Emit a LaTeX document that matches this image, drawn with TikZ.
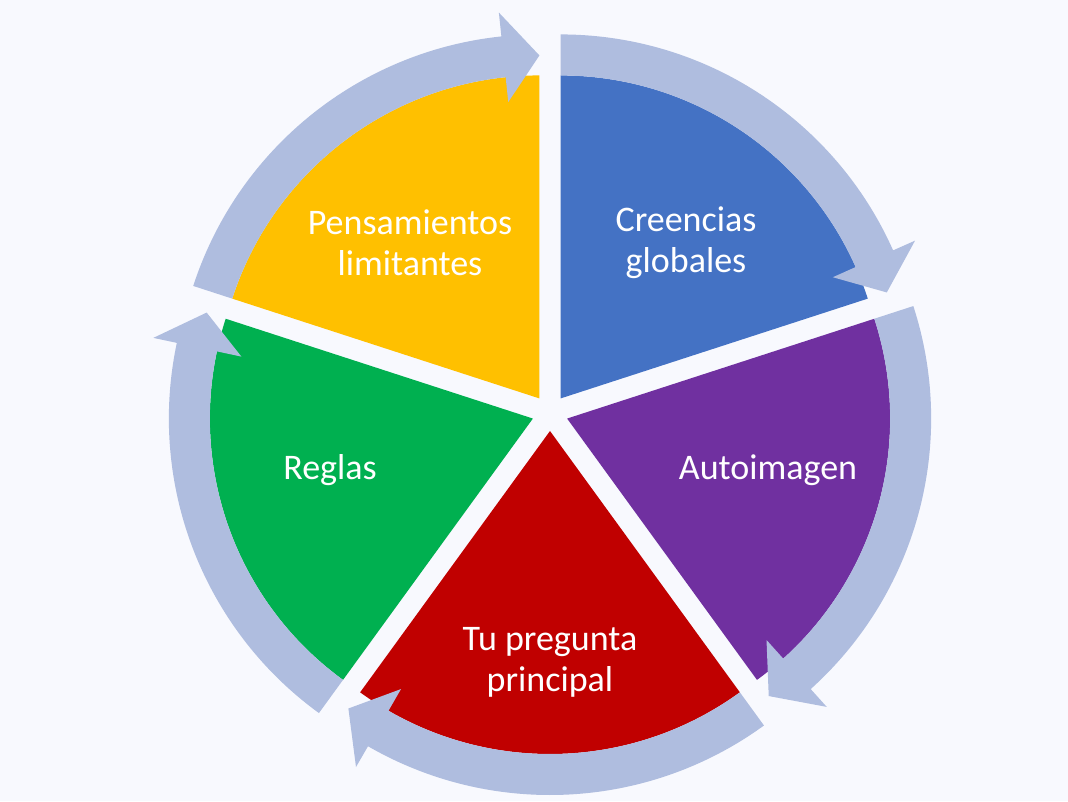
\documentclass[tikz,border=0pt]{standalone}
\usepackage{fontspec}
\setmainfont{Carlito}
\definecolor{bgcol}{HTML}{F8F9FE}
\definecolor{ringcol}{HTML}{AFBDDF}
\definecolor{cblue}{HTML}{4472C4}
\definecolor{cyellow}{HTML}{FFC000}
\definecolor{cpurple}{HTML}{7030A0}
\definecolor{cred}{HTML}{C00000}
\definecolor{cgreen}{HTML}{00B050}
\begin{document}
\begin{tikzpicture}[x=1pt,y=1pt,
    segtext/.style={text=white, align=center, font=\fontsize{36}{41}\selectfont}]
  \useasboundingbox (0,0) rectangle (1068,801);
  \fill[bgcol] (0,0) rectangle (1068,801);
  % sectors
  \foreach \a/\col in {18/cblue, 90/cyellow, 162/cgreen, 234/cred, 306/cpurple} {
    \begin{scope}[shift={(550,388)}, shift={(\a+36:18)}]
      \fill[\col] (0,0) -- (\a:323) arc[start angle=\a, end angle=\a+72, radius=323] -- cycle;
    \end{scope}
  }
  % arrows round the sectors
  \foreach \a in {18, 90, 162, 234, 306} {
    \begin{scope}[shift={(550,388)}, shift={(\a+36:18)}]
      \fill[ringcol] (\a+72:364) arc[start angle=\a+72, end angle=\a+6, radius=364]
        -- (\a+6:388) -- (\a:343) -- (\a+6:298) -- (\a+6:323)
        arc[start angle=\a+6, end angle=\a+72, radius=323] -- cycle;
    \end{scope}
  }
  \node[segtext] (pens) at (410,558) {Pensamientos\\limitantes};
  \node[segtext] (cree) at (686,558) {Creencias\\globales};
  \node[segtext] (auto) at (768,331) {Autoimagen};
  \node[segtext] (regl) at (330,331) {Reglas};
  \node[segtext] (preg) at (550,139) {Tu pregunta\\principal};
\end{tikzpicture}
\end{document}
